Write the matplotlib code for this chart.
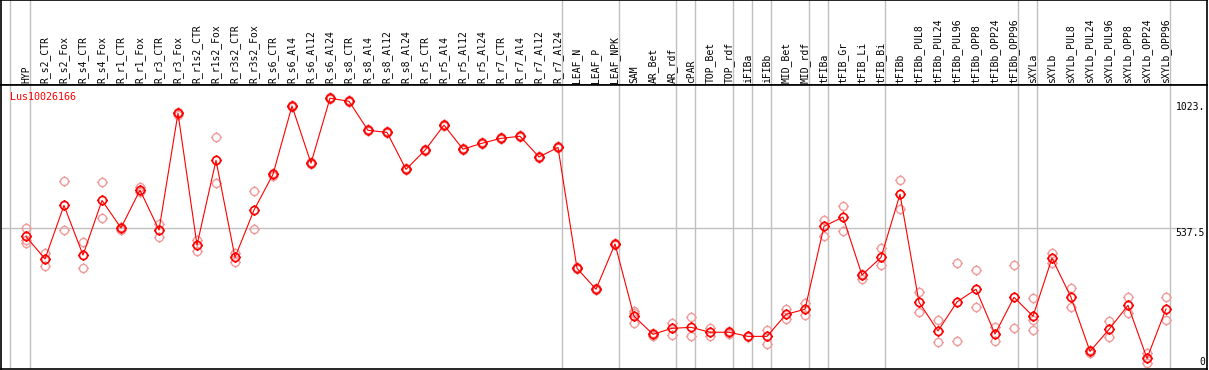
import numpy as np
import matplotlib
matplotlib.use("Agg")
import matplotlib.pyplot as plt
from matplotlib.path import Path
from matplotlib.transforms import blended_transform_factory

# sample names (column headers)
samples = ["HYP", "R_s2_CTR", "R_s2_Fox", "R_s4_CTR", "R_s4_Fox", "R_r1_CTR", "R_r1_Fox",
           "R_r3_CTR", "R_r3_Fox", "R_r1s2_CTR", "R_r1s2_Fox", "R_r3s2_CTR", "R_r3s2_Fox",
           "R_s6_CTR", "R_s6_Al4", "R_s6_Al12", "R_s6_Al24", "R_s8_CTR", "R_s8_Al4",
           "R_s8_Al12", "R_s8_Al24", "R_r5_CTR", "R_r5_Al4", "R_r5_Al12", "R_r5_Al24",
           "R_r7_CTR", "R_r7_Al4", "R_r7_Al12", "R_r7_Al24", "LEAF_N", "LEAF_P", "LEAF_NPK",
           "SAM", "AR_Bet", "AR_rdf", "cPAR", "TOP_Bet", "TOP_rdf", "iFIBa", "iFIBb",
           "MID_Bet", "MID_rdf", "tFIBa", "tFIB_Gr", "tFIB_Li", "tFIB_Bi", "tFIBb",
           "tFIBb_PUL8", "tFIBb_PUL24", "tFIBb_PUL96", "tFIBb_OPP8", "tFIBb_OPP24",
           "tFIBb_OPP96", "sXYLa", "sXYLb", "sXYLb_PUL8", "sXYLb_PUL24", "sXYLb_PUL96",
           "sXYLb_OPP8", "sXYLb_OPP24", "sXYLb_OPP96"]

# mean expression
mean_expr = [505, 418, 625, 433, 644, 538, 684, 530, 981, 472, 799, 424, 607,
             745, 1009, 788, 1039, 1027, 915, 907, 764, 838, 935, 842, 865,
             884, 892, 812, 849, 382, 301, 476,
             197, 127, 150, 154, 135, 135, 119, 119, 204, 224,
             544, 580, 356, 424, 668, 251, 140, 252, 301, 128, 270,
             197, 421, 270, 61, 146, 239, 34, 225]

# replicates
rep_a = [536, 440, 719, 482, 715, 543, 697, 553, 986, 491, 888, 440, 681,
         750, 1014, 793, 1043, 1031, 919, 911, 768, 842, 939, 846, 869,
         888, 896, 816, 853, 386, 305, 480,
         217, 133, 172, 194, 153, 140, 122, 144, 225, 248,
         569, 621, 360, 459, 722, 290, 182, 402, 374, 154, 395,
         266, 441, 306, 66, 178, 271, 54, 270]
rep_b = [479, 392, 530, 382, 575, 530, 675, 504, 976, 450, 710, 408, 533,
         740, 1004, 783, 1034, 1023, 911, 903, 760, 834, 931, 838, 861,
         880, 888, 808, 845, 378, 297, 472,
         170, 122, 124, 119, 119, 130, 116, 90, 185, 202,
         506, 525, 339, 395, 611, 212, 96, 100, 231, 102, 151,
         144, 401, 233, 56, 117, 208, 17, 181]
rep_c = {0: 492, 32: 210, 53: 182}

# group separators (after these column indices)
separators = [-1, 0, 28, 31, 34, 35, 37, 38, 39, 41, 42, 45, 52, 53, 60]
ytick_vals = [0, 537.5, 1023]
ytick_text = ["0", "537.5", "1023."]
gene = "Lus10026166"

W, H = 1209, 370
fig = plt.figure(figsize=(W / 100, H / 100), dpi=100)
x = np.arange(len(samples))
xlim = ((1 - 26) / 19, (1207 - 26) / 19)
ylim = (-7, 1090)

ax_h = fig.add_axes([1 / W, (H - 85) / H, 1206 / W, 85 / H])
ax = fig.add_axes([1 / W, 1 / H, 1206 / W, 284 / H])

for a in (ax, ax_h):
    a.set_xlim(*xlim)
    a.set_xticks([])
    a.set_yticks([])
    for s in a.spines.values():
        s.set_color("black")
        s.set_linewidth(1.2)
    for sp in separators:
        pos = sp + 0.21 if sp >= 0 else -0.84
        a.axvline(pos, color="#c0c0c0", lw=1, zorder=0)
ax_h.set_ylim(0, 1)
ax.set_ylim(*ylim)

mono = "DejaVu Sans Mono"
for i, name in enumerate(samples):
    ax_h.text(i, 0.025, name, rotation=90, ha="center", va="bottom",
              fontsize=7, family=mono, color="black")

ax.hlines(537.5, xlim[0], 61.6, color="#c0c0c0", lw=1, zorder=0)

# marker: circle with four short ticks
circ = Path.unit_circle()
ticks = [Path([[0, 1], [0, 1.35]]), Path([[0, -1], [0, -1.35]]),
         Path([[1, 0], [1.35, 0]]), Path([[-1, 0], [-1.35, 0]])]
mk = Path.make_compound_path(circ, *ticks)

pink = "#f09a9a"
ms = 7.8
ax.plot(x, rep_a, ls="none", marker=mk, ms=ms, mfc="none", mec=pink, mew=1.0, zorder=2)
ax.plot(x, rep_b, ls="none", marker=mk, ms=ms, mfc="none", mec=pink, mew=1.0, zorder=2)
ax.plot(list(rep_c.keys()), list(rep_c.values()), ls="none", marker=mk, ms=ms,
        mfc="none", mec=pink, mew=1.0, zorder=2)
ax.plot(x, mean_expr, color="red", lw=0.8, marker=mk, ms=ms, mfc="none",
        mec="red", mew=1.2, zorder=3)

ax.text(9 / 1206, 1 - 12 / 284, gene, transform=ax.transAxes, color="red",
        fontsize=7.2, family=mono, ha="left", va="center")

tr = blended_transform_factory(ax.transAxes, ax.transData)
for v, t in zip(ytick_vals, ytick_text):
    ax.text(1 - 2 / 1206, v, t, transform=tr, fontsize=7, family=mono,
            ha="right", va="bottom" if v == 0 else "top", color="black")

fig.savefig("out.png", dpi=100)
